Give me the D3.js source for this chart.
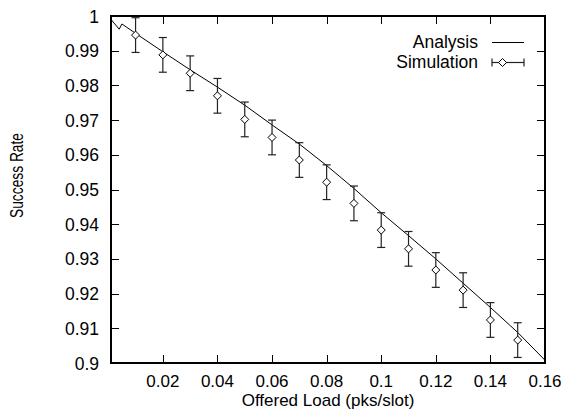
<!DOCTYPE html>
<html>
<head>
<meta charset="utf-8">
<script src="https://cdn.jsdelivr.net/npm/d3@7"></script>
<style>
  html, body { margin: 0; padding: 0; background: #fff; }
  text { font-family: "Liberation Sans", Arial, Helvetica, sans-serif; fill: #000; }
</style>
</head>
<body>
<svg id="chart" width="563" height="414"></svg>
<script>
// ---- data ----
const analysisLoad = [0.001, 0.004, 0.005, 0.01, 0.02, 0.03, 0.04, 0.05, 0.06, 0.07, 0.08, 0.09, 0.10, 0.11, 0.12, 0.13, 0.14, 0.15, 0.16];
const analysisRate = [0.9990, 0.9962, 0.9977, 0.9950, 0.9897, 0.9845, 0.9795, 0.9743, 0.9686, 0.9631, 0.9569, 0.9503, 0.9433, 0.9367, 0.9300, 0.9230, 0.9160, 0.9088, 0.9008];

const simLoad = [0.01, 0.02, 0.03, 0.04, 0.05, 0.06, 0.07, 0.08, 0.09, 0.10, 0.11, 0.12, 0.13, 0.14, 0.15];
const simRate = [0.9945, 0.9888, 0.9835, 0.9770, 0.9702, 0.9650, 0.9585, 0.9521, 0.9460, 0.9383, 0.9329, 0.9268, 0.9210, 0.9124, 0.9066];
const simErr  = [0.0050, 0.0050, 0.0050, 0.0050, 0.0050, 0.0050, 0.0050, 0.0050, 0.0050, 0.0050, 0.0050, 0.0050, 0.0050, 0.0050, 0.0050];

const xTicks = [0.02, 0.04, 0.06, 0.08, 0.10, 0.12, 0.14, 0.16];
const xTickLabels = ["0.02", "0.04", "0.06", "0.08", "0.1", "0.12", "0.14", "0.16"];
const yTicks = [0.9, 0.91, 0.92, 0.93, 0.94, 0.95, 0.96, 0.97, 0.98, 0.99, 1.0];
const yTickLabels = ["0.9", "0.91", "0.92", "0.93", "0.94", "0.95", "0.96", "0.97", "0.98", "0.99", "1"];

const seriesNames = ["Analysis", "Simulation"];
const xTitle = "Offered Load (pks/slot)";
const yTitle = "Success Rate";

// ---- layout ----
const L = 111, R = 545, T = 16, B = 363;
const FS = 17.5;
const svg = d3.select("#chart");

const x = d3.scaleLinear().domain([0.001, 0.16]).range([L, R]);
const y = d3.scaleLinear().domain([0.9, 1.0]).range([B, T]);

svg.append("defs").append("clipPath").attr("id", "clip")
  .append("rect").attr("x", L).attr("y", T).attr("width", R - L).attr("height", B - T);

// ticks (inward, mirrored)
const tl = 8;
const gTicks = svg.append("g").attr("stroke", "#000").attr("stroke-width", 1);
xTicks.forEach(v => {
  const px = Math.round(x(v)) + 0.5;
  gTicks.append("line").attr("x1", px).attr("x2", px).attr("y1", B).attr("y2", B - tl);
  gTicks.append("line").attr("x1", px).attr("x2", px).attr("y1", T).attr("y2", T + tl);
});
yTicks.forEach(v => {
  const py = Math.round(y(v)) + 0.5;
  gTicks.append("line").attr("x1", L).attr("x2", L + tl).attr("y1", py).attr("y2", py);
  gTicks.append("line").attr("x1", R).attr("x2", R - tl).attr("y1", py).attr("y2", py);
});

// tick labels
xTicks.forEach((v, i) => {
  svg.append("text").attr("x", x(v)).attr("y", 387).attr("text-anchor", "middle")
    .attr("font-size", 17).text(xTickLabels[i]);
});
yTicks.forEach((v, i) => {
  svg.append("text").attr("x", 99).attr("y", y(v) + 6.5).attr("text-anchor", "end")
    .attr("font-size", FS).text(yTickLabels[i]);
});

// axis titles
svg.append("text").attr("x", (L + R) / 2).attr("y", 405.5).attr("text-anchor", "middle")
  .attr("font-size", 17).text(xTitle);
svg.append("text")
  .attr("transform", `translate(23,175.5) rotate(-90)`)
  .attr("text-anchor", "middle").attr("font-size", FS)
  .attr("textLength", 85).attr("lengthAdjust", "spacingAndGlyphs")
  .text(yTitle);

// plot content
const plot = svg.append("g").attr("clip-path", "url(#clip)");

const line = d3.line().x(d => x(d[0])).y(d => y(d[1]));
plot.append("path")
  .datum(analysisLoad.map((v, i) => [v, analysisRate[i]]))
  .attr("d", line).attr("fill", "none").attr("stroke", "#000").attr("stroke-width", 1);

const cap = 4;
const sim = simLoad.map((v, i) => ({ x: v, y: simRate[i], e: simErr[i] }));
const eb = plot.append("g").attr("stroke", "#222").attr("stroke-width", 1.2).attr("fill", "none");
sim.forEach(d => {
  const px = x(d.x), y1 = y(d.y + d.e), y2 = y(d.y - d.e);
  eb.append("line").attr("x1", px).attr("x2", px).attr("y1", y1).attr("y2", y2);
  eb.append("line").attr("x1", px - cap).attr("x2", px + cap).attr("y1", y1).attr("y2", y1);
  eb.append("line").attr("x1", px - cap).attr("x2", px + cap).attr("y1", y2).attr("y2", y2);
});
const ds = 4;
const diamond = (cx, cy) => `M${cx},${cy - ds}L${cx + ds},${cy}L${cx},${cy + ds}L${cx - ds},${cy}Z`;
plot.append("g").selectAll("path").data(sim).join("path")
  .attr("d", d => diamond(x(d.x), y(d.y)))
  .attr("fill", "#fff").attr("stroke", "#000").attr("stroke-width", 1);

// frame
svg.append("rect").attr("x", L).attr("y", T).attr("width", R - L).attr("height", B - T)
  .attr("fill", "none").attr("stroke", "#000").attr("stroke-width", 2);

// legend
const lx1 = 492, lx2 = 524;
svg.append("text").attr("x", 478).attr("y", 48).attr("text-anchor", "end").attr("font-size", FS).text(seriesNames[0]);
svg.append("line").attr("x1", lx1).attr("x2", lx2).attr("y1", 42.5).attr("y2", 42.5)
  .attr("stroke", "#000").attr("stroke-width", 1);
svg.append("text").attr("x", 478).attr("y", 68).attr("text-anchor", "end").attr("font-size", FS).text(seriesNames[1]);
const lg = svg.append("g").attr("stroke", "#222").attr("stroke-width", 1.2);
lg.append("line").attr("x1", lx1).attr("x2", lx2).attr("y1", 62.5).attr("y2", 62.5);
lg.append("line").attr("x1", lx1).attr("x2", lx1).attr("y1", 62.5 - cap).attr("y2", 62.5 + cap);
lg.append("line").attr("x1", lx2).attr("x2", lx2).attr("y1", 62.5 - cap).attr("y2", 62.5 + cap);
svg.append("path").attr("d", diamond(502.5, 62.5)).attr("fill", "#fff").attr("stroke", "#000").attr("stroke-width", 1);
</script>
</body>
</html>
